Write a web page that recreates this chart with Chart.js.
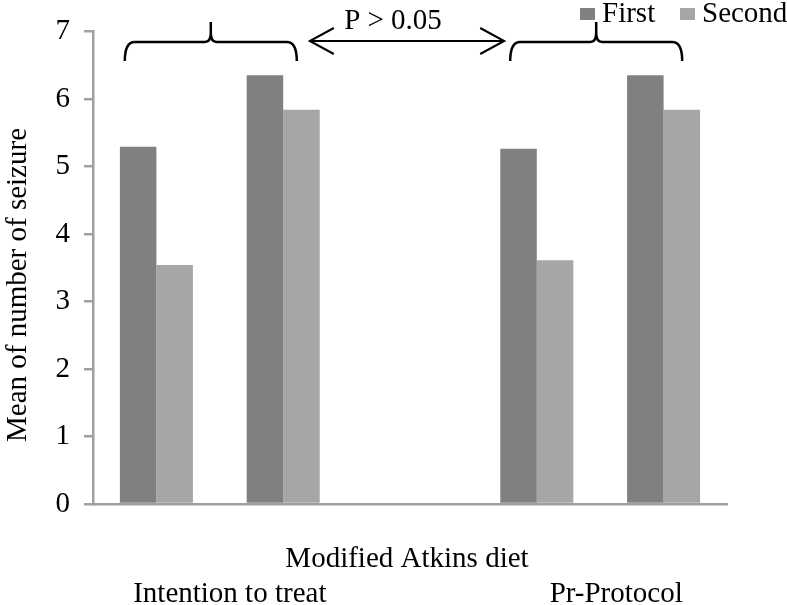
<!DOCTYPE html>
<html>
<head>
<meta charset="utf-8">
<script src="https://cdn.jsdelivr.net/npm/chart.js@4/dist/chart.umd.min.js"></script>
<style>
  html, body { margin: 0; padding: 0; background: #fff; }
  #wrap { width: 787px; height: 605px; }
</style>
</head>
<body>
<div id="wrap"><canvas id="c" width="787" height="605"></canvas></div>
<script>
// Data (five slots, the middle one is an empty gap)
const slots = ['ITT 1', 'ITT 2', '', 'PP 1', 'PP 2'];
const firstValues = [5.29, 6.35, null, 5.26, 6.35];
const secondValues = [3.54, 5.84, null, 3.61, 5.84];
const yTicks = [0, 1, 2, 3, 4, 5, 6, 7];
const groupLabels = ['Intention to treat', 'Pr-Protocol'];
const xTitle = 'Modified Atkins diet';
const yTitle = 'Mean of number of seizure';
const pText = 'P > 0.05';

const FONT = '"Liberation Serif", "Times New Roman", serif';
const DARK = '#808080';
const LIGHT = '#a6a6a6';
const AXIS = '#a0a0a0';

// Draws braces, arrow, legend and the text labels
const annotations = {
    id: 'annotations',
    afterDraw(chart) {
        const ctx = chart.ctx;
        const x = chart.scales.x;
        const px = i => x.getPixelForValue(i);
        const ittMid = (px(0) + px(1)) / 2;
        const ppMid = (px(3) + px(4)) / 2;

        ctx.save();
        ctx.strokeStyle = '#000';
        ctx.fillStyle = '#000';
        ctx.lineWidth = 2.5;

        const brace = (cx, half) => {
            const L = cx - half, R = cx + half, yH = 42;
            ctx.beginPath();
            ctx.moveTo(L, 61);
            ctx.quadraticCurveTo(L, yH, L + 10, yH);
            ctx.lineTo(cx - 6, yH);
            ctx.quadraticCurveTo(cx, yH, cx, 33);
            ctx.lineTo(cx, 22);
            ctx.moveTo(cx, 33);
            ctx.quadraticCurveTo(cx, yH, cx + 6, yH);
            ctx.lineTo(R - 10, yH);
            ctx.quadraticCurveTo(R, yH, R, 61);
            ctx.stroke();
        };
        const lb = ittMid - 9, rb = ppMid - 4;
        brace(lb, 86);
        brace(rb, 86);

        // double-headed arrow
        const a1 = lb + 86 + 13, a2 = rb - 86 - 6, ay = 41;
        ctx.lineWidth = 2;
        ctx.beginPath();
        ctx.moveTo(a1, ay); ctx.lineTo(a2, ay);
        ctx.moveTo(a1 + 24, ay - 13); ctx.lineTo(a1, ay); ctx.lineTo(a1 + 24, ay + 13);
        ctx.moveTo(a2 - 24, ay - 13); ctx.lineTo(a2, ay); ctx.lineTo(a2 - 24, ay + 13);
        ctx.stroke();

        ctx.font = '29px ' + FONT;
        ctx.textAlign = 'center';
        ctx.textBaseline = 'alphabetic';
        ctx.fillText(pText, (a1 + a2) / 2 - 14, 29);

        // legend
        ctx.textAlign = 'left';
        ctx.fillStyle = DARK;
        ctx.fillRect(580, 8, 15, 12);
        ctx.fillStyle = LIGHT;
        ctx.fillRect(680, 8, 15, 12);
        ctx.fillStyle = '#000';
        ctx.fillText('First', 602, 22);
        ctx.fillText('Second', 702, 22);

        // x labels
        ctx.textAlign = 'center';
        ctx.fillText(xTitle, (x.left + x.right) / 2 - 3, 567);
        ctx.fillText(groupLabels[0], ittMid + 10, 602);
        ctx.fillText(groupLabels[1], ppMid + 16, 602);

        // y title
        ctx.translate(18, 285);
        ctx.rotate(-Math.PI / 2);
        ctx.textBaseline = 'middle';
        ctx.fillText(yTitle, 0, 0);
        ctx.restore();
    }
};

new Chart(document.getElementById('c'), {
    type: 'bar',
    data: {
        labels: slots,
        datasets: [
            { label: 'First', data: firstValues, backgroundColor: DARK, borderWidth: 0 },
            { label: 'Second', data: secondValues, backgroundColor: LIGHT, borderWidth: 0 }
        ]
    },
    options: {
        responsive: false,
        animation: false,
        layout: { padding: { left: 0, right: 60, top: 23, bottom: 0 } },
        plugins: { legend: { display: false }, tooltip: { enabled: false } },
        datasets: { bar: { categoryPercentage: 0.576, barPercentage: 1 } },
        scales: {
            x: {
                grid: { display: false },
                ticks: { display: false },
                border: { display: true, color: AXIS, width: 2.5 },
                afterFit(scale) { scale.height = 101; }
            },
            y: {
                min: 0,
                max: 7,
                afterBuildTicks(scale) { scale.ticks = yTicks.map(v => ({ value: v })); },
                ticks: { color: '#000', padding: 14, font: { family: FONT, size: 29 } },
                grid: { drawOnChartArea: false, drawTicks: true, tickLength: 9, color: AXIS, lineWidth: 2.5 },
                border: { display: true, color: AXIS, width: 2.5 },
                afterFit(scale) { scale.width = 93; }
            }
        }
    },
    plugins: [annotations]
});
</script>
</body>
</html>
